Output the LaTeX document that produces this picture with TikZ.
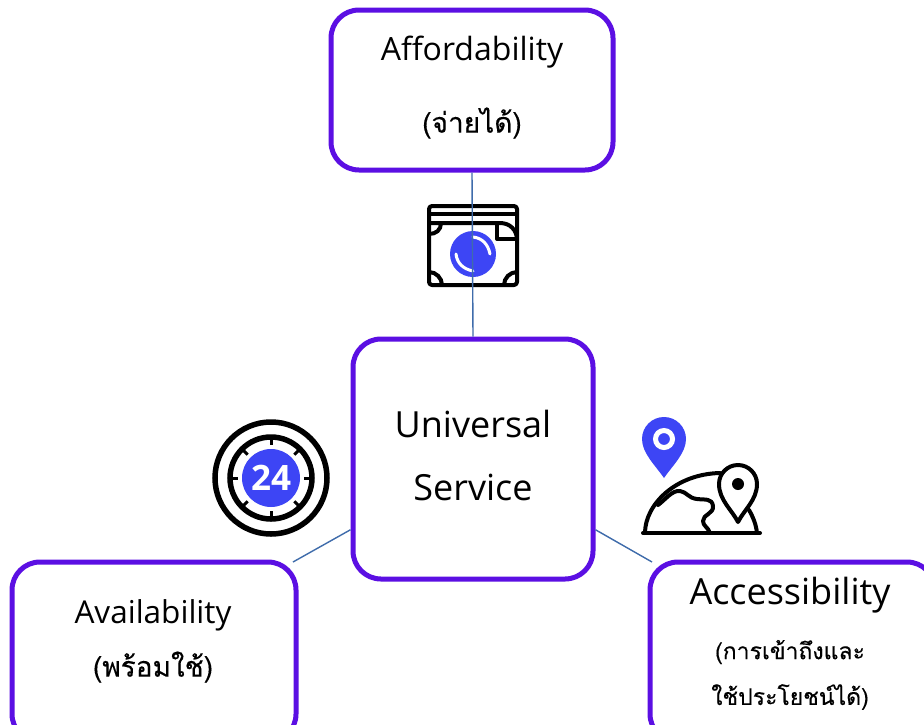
\documentclass[tikz,border=0pt]{standalone}
\usepackage{fontspec}
\newfontfamily\thaifont[Script=Thai,FakeBold=0.35]{Loma}
\newfontfamily\latinfont{Open Sans}
\definecolor{boxpurple}{HTML}{5B0FE3}
\definecolor{iconblue}{HTML}{3D45F5}
\definecolor{linkblue}{HTML}{3F6CAB}
\newcommand{\lat}[2]{{\latinfont\fontsize{#1}{#1}\selectfont #2}}
\newcommand{\tha}[2]{{\thaifont\fontsize{#1}{#1}\selectfont #2}}
\tikzset{
  card/.style={draw=boxpurple,line width=5pt,rounded corners=28pt,fill=white,inner sep=0pt},
  cardtext/.style={align=center,text=black,inner sep=0pt},
  link/.style={draw=linkblue,line width=1.4pt},
  iconline/.style={draw=black,line width=4pt,line cap=round,line join=round},
  whiteline/.style={draw=white,line width=3pt,line cap=round},
  tickline/.style={draw=black,line width=3pt},
}
\begin{document}
\begin{tikzpicture}[x=1pt,y=-1pt]
\clip (0,0) rectangle (924,724);
\fill[white] (0,0) rectangle (924,724);
% cards
\node[card,minimum width=282pt,minimum height=160pt] (afford) at (472,90) {};
\node[card,minimum width=240pt,minimum height=240pt] (univ) at (473,459) {};
\node[card,minimum width=284pt,minimum height=180pt] (avail) at (154,652) {};
\node[card,minimum width=285pt,minimum height=180pt] (access) at (792.5,652) {};
\node[cardtext] (t1) at (472,52) {\lat{32}{Affordability}};
\node[cardtext] (t2) at (472,123) {\tha{28}{(จ่ายได้)}};
\node[cardtext] (t3) at (473,424) {\lat{36}{Universal}};
\node[cardtext] (t4) at (473,487) {\lat{36}{Service}};
\node[cardtext] (t5) at (153,615) {\lat{31.5}{Availability}};
\node[cardtext] (t6) at (153,667) {\tha{28}{(พร้อมใช้)}};
\node[cardtext] (t7) at (790,595) {\lat{36}{Accessibility}};
\node[cardtext] (t8) at (790,652) {\tha{23}{(การเข้าถึงและ}};
\node[cardtext] (t9) at (790,697) {\tha{23}{ใช้ประโยชน์ได้)}};
% connector ends
\coordinate (availend) at (293,562);
\coordinate (accessend) at (652,562);
% money icon
\draw[iconline,rounded corners=3pt] (429,206) rectangle (517,285);
\draw[iconline] (429,214) -- (517,214);
\draw[iconline] (429,223) -- (500,223) .. controls (510,223) and (517,230) .. (517,240);
\draw[iconline] (497,223) -- (497,239) -- (517,239);
\draw[iconline] (429,234) .. controls (436,234) and (441,230) .. (441,223);
\draw[iconline] (429,272) .. controls (436,272) and (442,278) .. (442,285);
\draw[iconline] (517,272) .. controls (510,272) and (504,278) .. (504,285);
\fill[iconblue] (473,254) circle (23);
\draw[whiteline] (473,237) .. controls (482,238) and (488,244) .. (490,254);
\draw[whiteline] (456,254) .. controls (457,263) and (463,269) .. (473,271);
% clock icon
\draw[black,line width=5.5pt] (271,478) circle (56);
\draw[black,line width=5.5pt] (271,478) circle (41);
\foreach \a in {0,45,...,315}{\draw[tickline] (271,478) ++(\a:41) -- ++(\a:-8);}
\fill[iconblue] (271,478) circle (29);
\node[font=\latinfont\bfseries,text=white,inner sep=0pt] (clocktext) at (271,478) {\fontsize{35}{36}\selectfont 24};
% map icon
\fill[iconblue] (664,478) .. controls (655,465) and (642,453) .. (642,439) arc[start angle=180,end angle=360,radius=22] .. controls (686,453) and (673,465) .. (664,478) -- cycle;
\draw[white,line width=5pt] (664,439) circle (8.5);
\draw[iconline] (643,533) -- (760,533);
\draw[iconline] (645,533) .. controls (645,505) and (675,474) .. (720,473);
\draw[iconline] (757,533) .. controls (756,524) and (753,517) .. (749,510);
\draw[iconline] (658,505) .. controls (665,500) and (672,490) .. (680,491) .. controls (687,492) and (688,498) .. (697,499) .. controls (705,500) and (712,498) .. (713,506) .. controls (714,514) and (703,514) .. (703,521) .. controls (703,526) and (708,527) .. (710,533);
\draw[iconline,fill=white] (738,522) .. controls (732,510) and (719,500) .. (719,484) arc[start angle=180,end angle=360,radius=19] .. controls (757,500) and (744,510) .. (738,522) -- cycle;
\fill[black] (738,484) circle (6);
% connectors
\draw[link] (afford.south) -- (univ.north);
\draw[link] (univ.210) -- (availend);
\draw[link] (univ.330) -- (accessend);
\end{tikzpicture}
\end{document}
